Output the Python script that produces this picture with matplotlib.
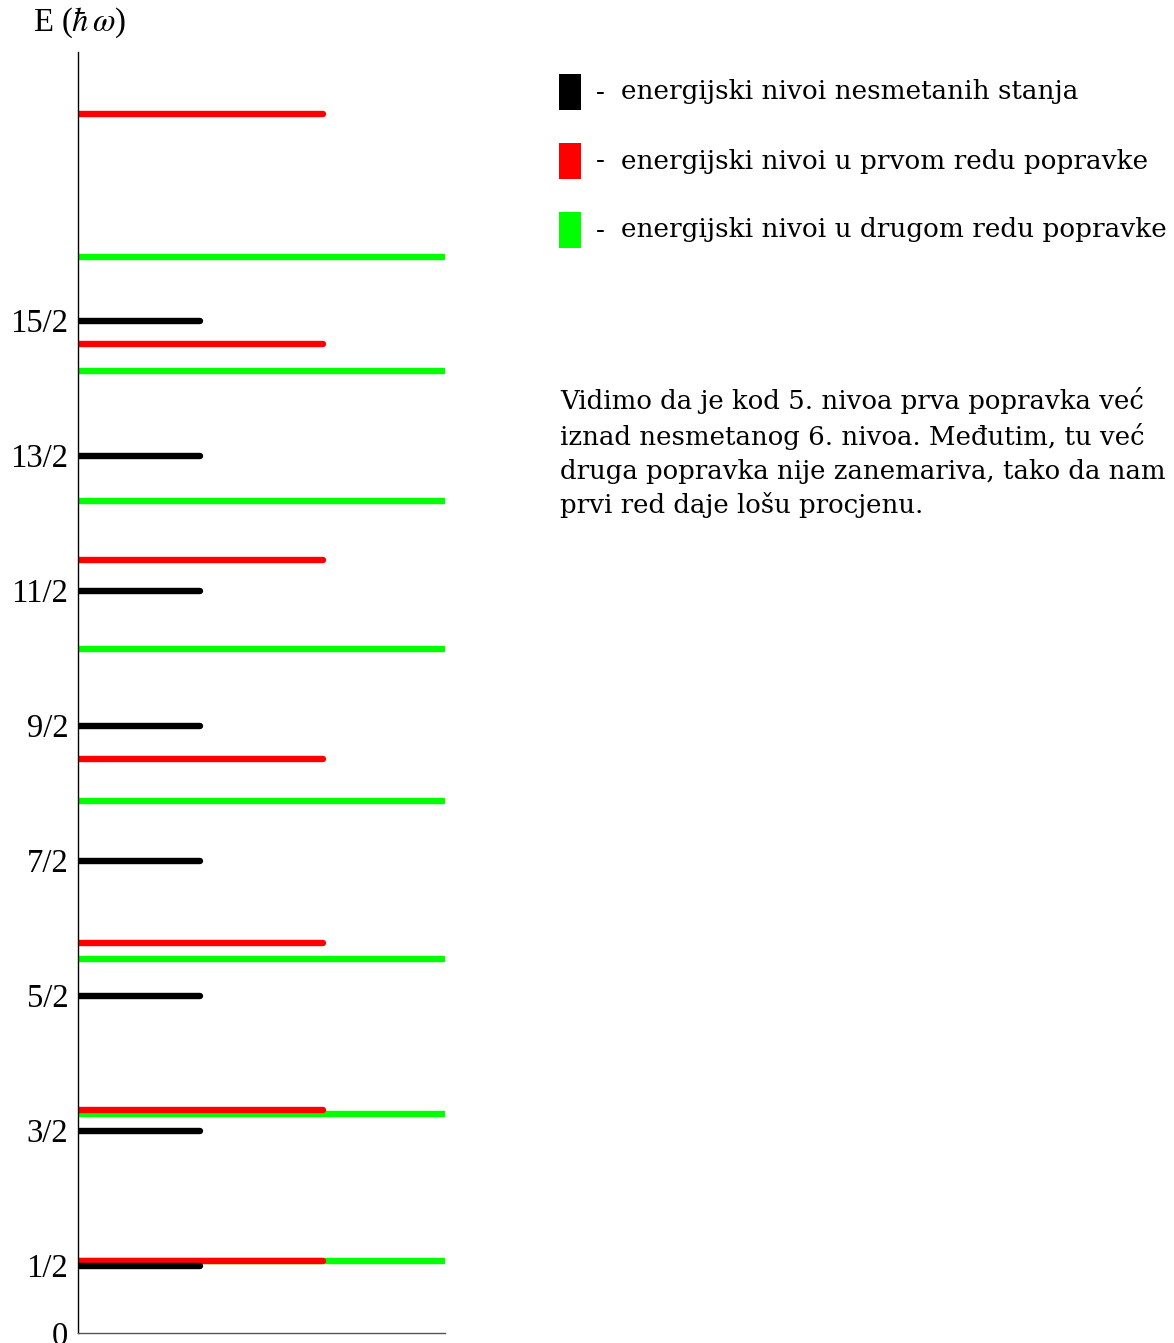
import numpy as np
import matplotlib.pyplot as plt
from matplotlib.patches import Rectangle

# energy levels in units of hbar*omega
unperturbed = [0.5, 1.5, 2.5, 3.5, 4.5, 5.5, 6.5, 7.5]
first_order = [0.53, 1.65, 2.89, 4.25, 5.73, 7.33, 9.03]
second_order = [0.53, 1.62, 2.77, 3.94, 5.07, 6.16, 7.13, 7.97]

tick_vals = [0, 0.5, 1.5, 2.5, 3.5, 4.5, 5.5, 6.5, 7.5]
tick_labels = ['0', '1/2', '3/2', '5/2', '7/2', '9/2', '11/2', '13/2', '15/2']

legend_labels = ['energijski nivoi nesmetanih stanja',
                 'energijski nivoi u prvom redu popravke',
                 'energijski nivoi u drugom redu popravke']
colors = ['#000000', '#ff0000', '#00ff00']

note = ("Vidimo da je kod 5. nivoa prva popravka već\n"
        "iznad nesmetanog 6. nivoa. Međutim, tu već\n"
        "druga popravka nije zanemariva, tako da nam\n"
        "prvi red daje lošu procjenu.")

fig = plt.figure(figsize=(11.74, 13.43), dpi=100)
ax = fig.add_axes([78 / 1174, 1 - 1333 / 1343, 367 / 1174, 1281 / 1343])

lw = 4.6
for y in second_order:
    ax.plot([0, 1.0], [y, y], color=colors[2], lw=lw, solid_capstyle='butt')
for y in first_order:
    ax.plot([0, 2 / 3], [y, y], color=colors[1], lw=lw, solid_capstyle='round')
for y in unperturbed:
    ax.plot([0, 1 / 3], [y, y], color=colors[0], lw=lw, solid_capstyle='round')

ax.set_xlim(0, 1)
ax.set_ylim(0, 9.49)
ax.set_xticks([])
ax.set_yticks(tick_vals)
ax.set_yticklabels(tick_labels, family='Liberation Serif', fontsize=23.5)
ax.tick_params(axis='y', length=0, pad=7)
for s in ['top', 'right']:
    ax.spines[s].set_visible(False)
ax.spines['left'].set_linewidth(1.0)
ax.spines['bottom'].set_linewidth(1.0)
ax.spines['bottom'].set_color('#555555')

plt.rcParams['mathtext.fontset'] = 'stix'
fig.text(33 / 1174, 1 - 23 / 1343, r'E ($\hbar\,\omega$)', family='Liberation Serif',
         fontsize=23.5, va='center', ha='left')

# legend drawn by hand
ys = [92, 161, 230]
for lab, c, y in zip(legend_labels, colors, ys):
    fig.patches.append(Rectangle((559 / 1174, 1 - (y + 18) / 1343), 22 / 1174, 36 / 1343,
                                 transform=fig.transFigure, facecolor=c, edgecolor='none'))
    fig.text(596 / 1174, 1 - y / 1343, '-', family='DejaVu Serif', fontsize=18.9, va='center')
    fig.text(621 / 1174, 1 - y / 1343, lab, family='DejaVu Serif', fontsize=18.9, va='center')

fig.text(560 / 1174, 1 - 387 / 1343, note, family='DejaVu Serif', fontsize=18.7,
         va='top', ha='left', linespacing=1.42)

fig.savefig('out.png', dpi=100)
